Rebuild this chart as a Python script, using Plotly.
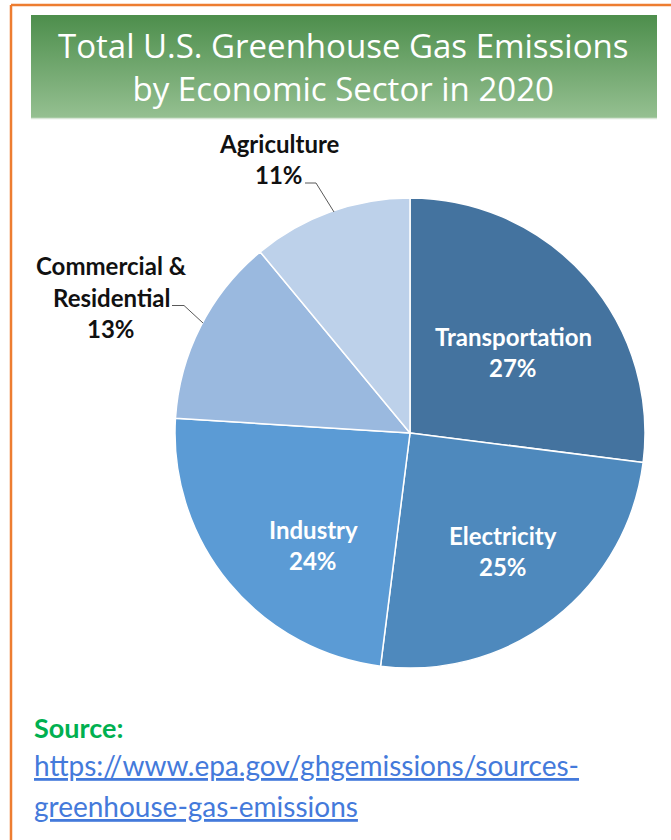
import plotly.graph_objects as go

# ---- data ----
sectors = ["Transportation", "Electricity", "Industry", "Commercial & Residential", "Agriculture"]
shares = [27, 25, 24, 13, 11]
label_lines = [["Transportation"], ["Electricity"], ["Industry"], ["Commercial &", "Residential"], ["Agriculture"]]

title_lines = ["Total U.S. Greenhouse Gas Emissions", "by Economic Sector in 2020"]
source_label = "Source:"
source_url = "https://www.epa.gov/ghgemissions/sources-greenhouse-gas-emissions"
url_lines = ["https://www.epa.gov/ghgemissions/sources-", "greenhouse-gas-emissions"]

# ---- styles / layout positions ----
colors = ["#44739F", "#4E89BD", "#5B9BD5", "#9AB9DF", "#BDD1EA"]
label_color = ["white", "white", "white", "#111111", "#111111"]
label_xy = [(513, 336), (503, 535), (313, 529), (111, 265.5), (279, 143)]  # first-line centre (px)
LINE_GAP = 31.5

W, H = 671, 840
FONT = "Lato"

fig = go.Figure()

# green gradient banner (pixel coordinates on hidden axes)
fig.add_trace(go.Scatter(
    x=[31, 657, 657, 31, 31], y=[15, 15, 118, 118, 15],
    mode="lines", line=dict(width=0), fill="toself",
    fillgradient=dict(type="vertical",
                      colorscale=[[0, "#95C091"], [1, "#4D8E4C"]]),
    hoverinfo="skip", showlegend=False,
))

# pie
cx, cy, r = 410, 433, 235
fig.add_trace(go.Pie(
    labels=sectors, values=shares, sort=False, direction="clockwise", rotation=0,
    marker=dict(colors=colors, line=dict(color="white", width=1.5)),
    textinfo="none",
    hoverinfo="label+value",
    showlegend=False,
    domain=dict(x=[(cx - r) / W, (cx + r) / W], y=[1 - (cy + r) / H, 1 - (cy - r) / H]),
))

annotations = []
# title
annotations.append(dict(x=343, y=66.5, xref="x", yref="y", text="<br>".join(title_lines), showarrow=False,
                        font=dict(family="Open Sans", size=33, color="white"),
                        xanchor="center", yanchor="middle", align="center"))

# slice labels
for lines, val, (lx, ly), col in zip(label_lines, shares, label_xy, label_color):
    for i, t in enumerate(lines + [f"{val}%"]):
        annotations.append(dict(x=lx, y=ly + i * LINE_GAP, xref="x", yref="y", text="<b>" + t + "</b>",
                                showarrow=False, font=dict(family=FONT, size=24, color=col),
                                xanchor="center", yanchor="middle"))

# source
annotations.append(dict(x=32, y=727, xref="x", yref="y", text="<b>" + source_label + "</b>",
                        showarrow=False, font=dict(family=FONT, size=27, color="#00B050"),
                        xanchor="left", yanchor="middle"))
for i, t in enumerate(url_lines):
    annotations.append(dict(x=32, y=765 + i * 41, xref="x", yref="y",
                            text=f"<a href='{source_url}'><u>{t}</u></a>",
                            showarrow=False, font=dict(family=FONT, size=28, color="#0563C1"),
                            xanchor="left", yanchor="middle"))

shapes = [
    # orange frame
    dict(type="line", xref="x", yref="y", x0=11, y0=5, x1=W + 5, y1=5, line=dict(color="#ED7D31", width=2.5)),
    dict(type="line", xref="x", yref="y", x0=11, y0=5, x1=11, y1=H + 5, line=dict(color="#ED7D31", width=2.5)),
    # banner bottom edge
    dict(type="line", xref="x", yref="y", x0=31, y0=118.5, x1=657, y1=118.5, line=dict(color="#D8E6D6", width=1.5)),
    # leader lines
    dict(type="path", xref="x", yref="y", path="M 305 183 L 316 183 L 334 212", line=dict(color="#595959", width=1)),
    dict(type="path", xref="x", yref="y", path="M 172 305.5 L 184 305.5 L 203 323", line=dict(color="#595959", width=1)),
]

fig.update_layout(
    width=W, height=H, margin=dict(l=0, r=0, t=0, b=0),
    paper_bgcolor="white", plot_bgcolor="white",
    xaxis=dict(range=[0, W], visible=False, fixedrange=True, domain=[0, 1]),
    yaxis=dict(range=[H, 0], visible=False, fixedrange=True, domain=[0, 1]),
    annotations=annotations, shapes=shapes,
    font=dict(family=FONT),
)

fig.write_html("out.html", config={"displayModeBar": False},
               post_script="document.body.style.margin='0';document.body.style.overflow='hidden';")
